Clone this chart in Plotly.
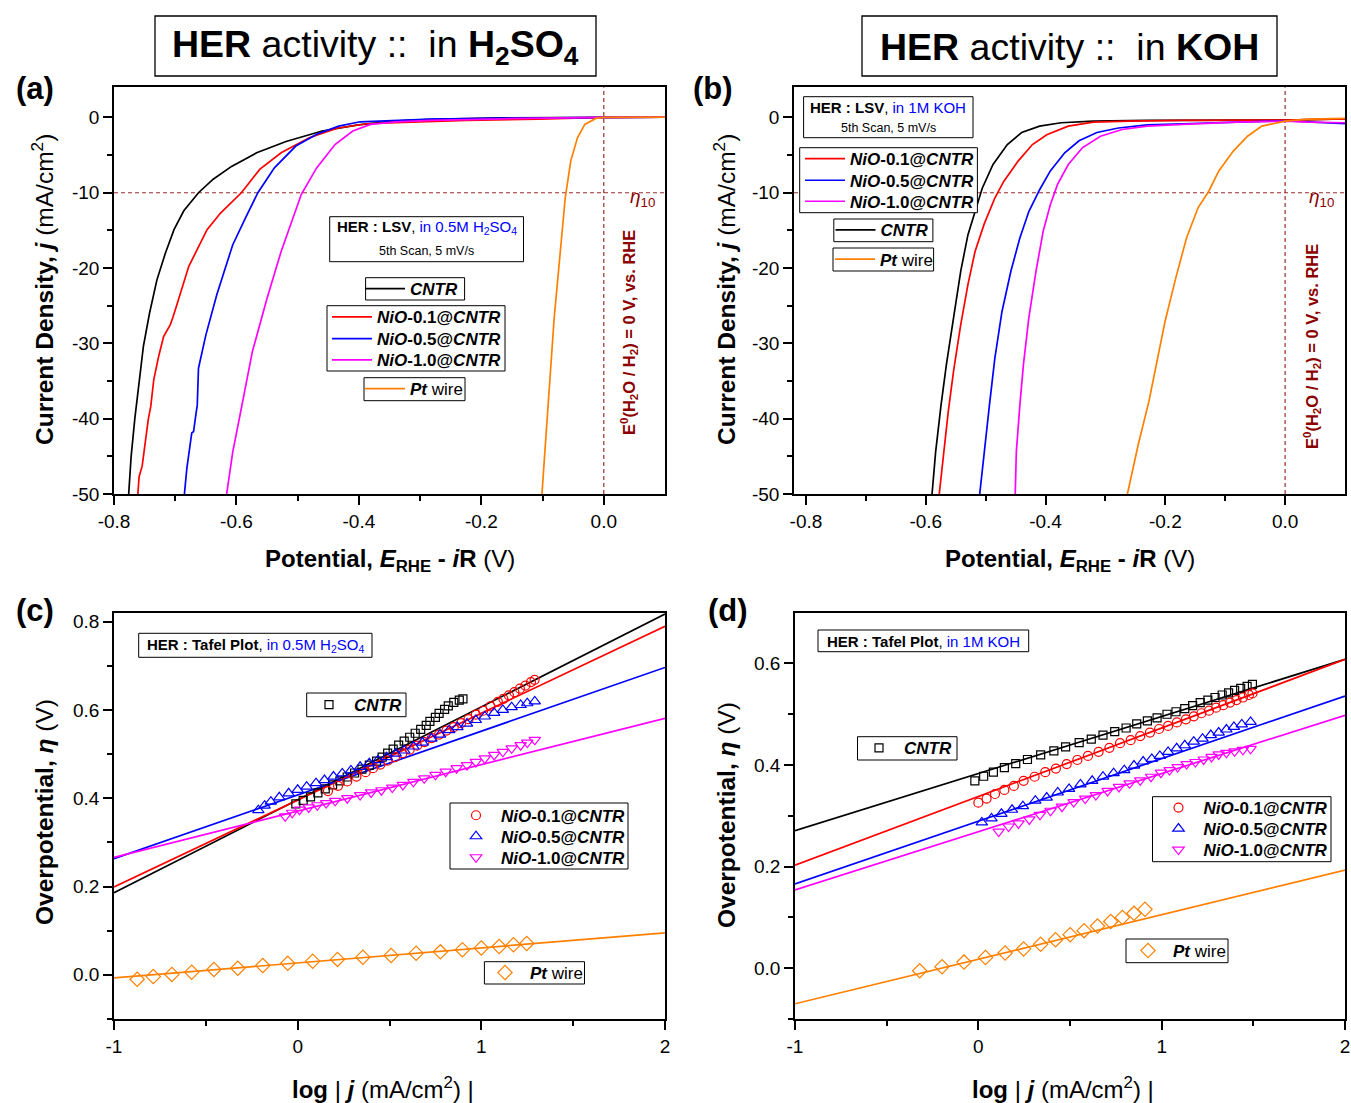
import plotly.graph_objects as go

W, H = 1351, 1103
FONT = "Arial, Liberation Sans, sans-serif"
DARKRED = "#8B0000"
DASHRED = "#9B2F2F"
C_BLACK, C_RED, C_BLUE, C_MAG, C_ORG = "#000000", "#FF0000", "#0000FF", "#FF00FF", "#FF8000"

def px(x):
    return x / W

def py(y):
    return 1 - y / H

# ---------------- DATA ----------------
# (a) LSV in 0.5 M H2SO4 : potential E (V vs RHE) and current density j (mA/cm2)
A_CNTR_E = [-0.776, -0.772, -0.766, -0.760, -0.752, -0.742, -0.730, -0.716, -0.702, -0.686, -0.662, -0.638,
            -0.608, -0.567, -0.519, -0.460, -0.401, -0.342, -0.283, -0.165, 0.0, 0.1]
A_CNTR_J = [-50.0, -45.0, -40.0, -35.5, -30.4, -26.0, -21.6, -18.0, -14.9, -12.4, -10.0, -8.2,
            -6.5, -4.7, -3.2, -1.8, -1.0, -0.5, -0.27, -0.05, 0.02, 0.05]
A_N01_E = [-0.761, -0.759, -0.754, -0.750, -0.744, -0.740, -0.735, -0.727, -0.719, -0.708, -0.704, -0.694,
           -0.678, -0.648, -0.626, -0.592, -0.562, -0.527, -0.481, -0.434, -0.387, -0.340, -0.224, -0.107, 0.0, 0.1]
A_N01_J = [-50.0, -47.7, -46.3, -43.7, -40.1, -38.4, -34.8, -31.7, -29.1, -27.5, -26.6, -24.0,
           -19.8, -14.9, -12.7, -10.0, -6.9, -4.7, -2.7, -1.4, -0.84, -0.71, -0.40, -0.22, 0.0, 0.04]
A_N05_E = [-0.685, -0.681, -0.673, -0.670, -0.667, -0.664, -0.662, -0.650, -0.632, -0.606, -0.585, -0.565,
           -0.538, -0.503, -0.468, -0.433, -0.398, -0.352, -0.282, -0.165, 0.0, 0.1]
A_N05_J = [-50.0, -46.6, -41.9, -41.7, -39.9, -38.2, -33.3, -28.9, -23.5, -16.9, -13.3, -10.0,
           -6.7, -3.8, -2.2, -1.15, -0.58, -0.40, -0.22, -0.09, 0.04, 0.04]
A_N10_E = [-0.616, -0.606, -0.591, -0.574, -0.550, -0.527, -0.494, -0.469, -0.439, -0.410, -0.381, -0.340,
           -0.282, -0.165, 0.0, 0.1]
A_N10_J = [-50.0, -44.4, -38.2, -31.1, -24.0, -17.8, -10.2, -6.7, -3.6, -1.8, -0.93, -0.58,
           -0.40, -0.18, 0.0, 0.04]
A_PT_E = [-0.101, -0.096, -0.089, -0.081, -0.071, -0.063, -0.054, -0.043, -0.031, -0.013, 0.0, 0.1]
A_PT_J = [-50.0, -44.4, -35.5, -26.6, -17.8, -10.7, -5.8, -2.7, -0.93, -0.13, 0.0, 0.04]

# (b) LSV in 1 M KOH
B_CNTR_E = [-0.5895, -0.5835, -0.5745, -0.5655, -0.5536, -0.5416, -0.5296, -0.5177, -0.5057, -0.4877,
            -0.4638, -0.4399, -0.4099, -0.3740, -0.3202, -0.2304, -0.1107, 0.0, 0.10]
B_CNTR_J = [-50.0, -44.4, -38.2, -32.8, -26.6, -20.4, -15.6, -12.5, -9.4, -6.25,
            -3.6, -2.0, -1.15, -0.71, -0.49, -0.40, -0.35, -0.35, -0.18]
B_N01_E = [-0.5775, -0.5703, -0.5625, -0.5536, -0.5416, -0.5296, -0.5177, -0.5027, -0.4847, -0.4698,
           -0.4458, -0.4219, -0.3980, -0.3621, -0.3202, -0.2603, -0.1706, 0.0, 0.10]
B_N01_J = [-50.0, -44.4, -39.1, -33.7, -27.5, -22.2, -17.8, -14.2, -10.7, -8.5,
           -5.8, -3.6, -2.3, -1.15, -0.62, -0.49, -0.40, -0.35, -0.18]
B_N05_E = [-0.5099, -0.5027, -0.4937, -0.4847, -0.4728, -0.4578, -0.4429, -0.4279, -0.4099, -0.3920,
           -0.3680, -0.3441, -0.3142, -0.2783, -0.2304, -0.1706, -0.0808, 0.0, 0.039, 0.10]
B_N05_J = [-50.0, -44.4, -38.2, -32.0, -25.8, -20.4, -16.0, -12.5, -9.6, -7.1,
           -4.7, -3.1, -2.0, -1.4, -1.0, -0.84, -0.58, -0.44, -0.58, -0.84]
B_N10_E = [-0.4506, -0.4488, -0.4429, -0.4369, -0.4279, -0.4159, -0.4039, -0.3920, -0.3800, -0.3620,
           -0.3381, -0.3082, -0.2723, -0.2304, -0.1706, -0.0808, 0.0, 0.039, 0.10]
B_N10_J = [-50.0, -44.4, -38.2, -32.8, -26.6, -20.4, -15.1, -11.6, -8.9, -6.25,
           -4.0, -2.5, -1.6, -1.15, -0.93, -0.62, -0.49, -0.62, -0.71]
B_PT_E = [-0.2633, -0.2454, -0.2274, -0.2124, -0.2005, -0.1825, -0.1646, -0.1454, -0.1275, -0.1107,
          -0.0868, -0.0628, -0.0389, 0.0, 0.039, 0.10]
B_PT_J = [-50.0, -43.5, -37.7, -32.0, -27.1, -21.3, -16.0, -12.0, -9.8, -7.1,
          -4.5, -2.5, -1.15, -0.49, -0.22, -0.13]

# (c) Tafel in 0.5 M H2SO4 : log|j| and overpotential (V)
C_CNTR_X = [-0.01, 0.03, 0.07, 0.11, 0.15, 0.19, 0.23, 0.27, 0.31, 0.35, 0.39, 0.43, 0.46, 0.49, 0.52,
            0.55, 0.58, 0.61, 0.64, 0.67, 0.70, 0.72, 0.75, 0.77, 0.80, 0.82, 0.85, 0.88, 0.90]
C_CNTR_Y = [0.387, 0.395, 0.403, 0.412, 0.421, 0.430, 0.439, 0.448, 0.457, 0.466, 0.475, 0.484, 0.493,
            0.502, 0.511, 0.520, 0.529, 0.538, 0.547, 0.556, 0.565, 0.574, 0.583, 0.592, 0.601, 0.609,
            0.617, 0.622, 0.625]
C_N01_X = [0.165, 0.22, 0.27, 0.32, 0.37, 0.41, 0.45, 0.49, 0.53, 0.57, 0.61, 0.65, 0.69, 0.73, 0.77,
           0.81, 0.85, 0.89, 0.93, 0.97, 1.01, 1.05, 1.09, 1.12, 1.15, 1.18, 1.21, 1.24, 1.27, 1.29]
C_N01_Y = [0.416, 0.428, 0.438, 0.449, 0.459, 0.468, 0.476, 0.485, 0.493, 0.502, 0.510, 0.519, 0.527,
           0.536, 0.544, 0.553, 0.561, 0.570, 0.579, 0.589, 0.598, 0.608, 0.618, 0.625, 0.633, 0.640,
           0.648, 0.655, 0.663, 0.668]
C_N05_X = [-0.214, -0.18, -0.146, -0.10, -0.049, 0.0, 0.049, 0.10, 0.146, 0.195, 0.243, 0.29, 0.340,
           0.39, 0.437, 0.485, 0.534, 0.58, 0.631, 0.68, 0.728, 0.775, 0.825, 0.87, 0.922, 0.97, 1.019,
           1.07, 1.117, 1.165, 1.214, 1.25, 1.291]
C_N05_Y = [0.373, 0.383, 0.392, 0.402, 0.411, 0.419, 0.426, 0.434, 0.441, 0.449, 0.456, 0.463, 0.471,
           0.479, 0.486, 0.493, 0.501, 0.508, 0.517, 0.526, 0.535, 0.544, 0.554, 0.561, 0.569, 0.577,
           0.585, 0.593, 0.600, 0.606, 0.611, 0.615, 0.619]
C_N10_X = [-0.068, -0.03, 0.010, 0.06, 0.107, 0.155, 0.204, 0.27, 0.340, 0.40, 0.456, 0.515, 0.573,
           0.63, 0.689, 0.75, 0.806, 0.865, 0.922, 0.97, 1.019, 1.07, 1.117, 1.165, 1.214, 1.25, 1.291]
C_N10_Y = [0.359, 0.367, 0.374, 0.379, 0.384, 0.389, 0.394, 0.400, 0.407, 0.413, 0.418, 0.424, 0.430,
           0.437, 0.445, 0.453, 0.460, 0.468, 0.475, 0.482, 0.490, 0.498, 0.505, 0.513, 0.520, 0.526, 0.532]
C_PT_X = [-0.874, -0.786, -0.685, -0.577, -0.456, -0.326, -0.190, -0.054, 0.082, 0.217, 0.355, 0.509,
          0.645, 0.777, 0.897, 1.000, 1.097, 1.175, 1.247]
C_PT_Y = [-0.010, -0.004, 0.001, 0.006, 0.012, 0.015, 0.021, 0.026, 0.031, 0.035, 0.040, 0.044,
          0.049, 0.052, 0.057, 0.061, 0.064, 0.068, 0.071]
# fitted Tafel lines (end points at log|j| = -1 and 2)
FIT_X = [-1, 2]
C_FIT_CNTR = [0.186, 0.817]
C_FIT_N01 = [0.199, 0.789]
C_FIT_N05 = [0.263, 0.696]
C_FIT_N10 = [0.266, 0.581]
C_FIT_PT = [-0.007, 0.095]

# (d) Tafel in 1 M KOH
D_CNTR_X = [-0.019, 0.029, 0.082, 0.142, 0.204, 0.268, 0.340, 0.412, 0.476, 0.550, 0.616, 0.680, 0.744,
            0.806, 0.864, 0.922, 0.975, 1.029, 1.078, 1.126, 1.169, 1.210, 1.252, 1.291, 1.330, 1.365,
            1.398, 1.431, 1.466, 1.495]
D_CNTR_Y = [0.369, 0.378, 0.386, 0.395, 0.403, 0.411, 0.420, 0.428, 0.436, 0.444, 0.451, 0.459, 0.466,
            0.473, 0.481, 0.487, 0.493, 0.500, 0.505, 0.511, 0.517, 0.523, 0.528, 0.533, 0.538, 0.542,
            0.547, 0.551, 0.555, 0.559]
D_N01_X = [0.000, 0.045, 0.091, 0.142, 0.194, 0.247, 0.307, 0.365, 0.423, 0.482, 0.540, 0.598, 0.656,
           0.715, 0.773, 0.831, 0.883, 0.936, 0.986, 1.035, 1.083, 1.132, 1.175, 1.217, 1.258, 1.297,
           1.336, 1.373, 1.408, 1.443, 1.476, 1.495]
D_N01_Y = [0.326, 0.334, 0.343, 0.351, 0.359, 0.369, 0.377, 0.386, 0.393, 0.402, 0.410, 0.418, 0.426,
           0.434, 0.443, 0.449, 0.457, 0.464, 0.471, 0.477, 0.484, 0.490, 0.496, 0.502, 0.507, 0.513,
           0.518, 0.523, 0.528, 0.533, 0.538, 0.541]
D_N05_X = [0.019, 0.072, 0.126, 0.184, 0.243, 0.311, 0.373, 0.433, 0.495, 0.557, 0.621, 0.680, 0.738,
           0.796, 0.849, 0.899, 0.946, 0.990, 1.035, 1.082, 1.126, 1.175, 1.223, 1.268, 1.311, 1.353,
           1.394, 1.437, 1.485]
D_N05_Y = [0.287, 0.295, 0.304, 0.312, 0.319, 0.330, 0.336, 0.346, 0.353, 0.362, 0.369, 0.377, 0.384,
           0.390, 0.399, 0.407, 0.412, 0.418, 0.426, 0.433, 0.439, 0.446, 0.452, 0.459, 0.464, 0.470,
           0.475, 0.480, 0.485]
D_N10_X = [0.111, 0.165, 0.219, 0.278, 0.336, 0.394, 0.456, 0.520, 0.583, 0.641, 0.705, 0.767, 0.825,
           0.883, 0.942, 0.996, 1.043, 1.087, 1.136, 1.184, 1.229, 1.272, 1.311, 1.353, 1.398, 1.443, 1.485]
D_N10_Y = [0.269, 0.279, 0.285, 0.293, 0.302, 0.310, 0.318, 0.327, 0.334, 0.341, 0.349, 0.357, 0.364,
           0.370, 0.377, 0.385, 0.390, 0.396, 0.402, 0.406, 0.411, 0.416, 0.421, 0.424, 0.427, 0.430, 0.432]
D_PT_X = [-0.320, -0.198, -0.078, 0.039, 0.146, 0.247, 0.340, 0.421, 0.501, 0.577, 0.650, 0.722, 0.786,
          0.849, 0.909]
D_PT_Y = [-0.005, 0.003, 0.012, 0.021, 0.030, 0.038, 0.047, 0.056, 0.066, 0.074, 0.083, 0.092, 0.100,
          0.108, 0.116]
D_FIT_CNTR = [0.271, 0.608]
D_FIT_N01 = [0.203, 0.608]
D_FIT_N05 = [0.166, 0.536]
D_FIT_N10 = [0.154, 0.498]
D_FIT_PT = [-0.070, 0.193]

# tick definitions
LSV_XT = [-0.8, -0.6, -0.4, -0.2, 0.0]
LSV_XL = ["-0.8", "-0.6", "-0.4", "-0.2", "0.0"]
LSV_XM = [-0.7, -0.5, -0.3, -0.1]
LSV_YT = [-50, -40, -30, -20, -10, 0]
LSV_YL = ["-50", "-40", "-30", "-20", "-10", "0"]
LSV_YM = [-45, -35, -25, -15, -5]
TAF_XT = [-1, 0, 1, 2]
TAF_XL = ["-1", "0", "1", "2"]
TAF_XM = [-0.5, 0.5, 1.5]
C_YT = [0.0, 0.2, 0.4, 0.6, 0.8]
C_YL = ["0.0", "0.2", "0.4", "0.6", "0.8"]
C_YM = [-0.1, 0.1, 0.3, 0.5, 0.7]
D_YT = [0.0, 0.2, 0.4, 0.6]
D_YL = ["0.0", "0.2", "0.4", "0.6"]
D_YM = [-0.1, 0.1, 0.3, 0.5]

NAME_CNTR = "<b><i>CNTR</i></b>"
NAME_N01 = "<b><i>NiO</i>-0.1@<i>CNTR</i></b>"
NAME_N05 = "<b><i>NiO</i>-0.5@<i>CNTR</i></b>"
NAME_N10 = "<b><i>NiO</i>-1.0@<i>CNTR</i></b>"
NAME_PT = "<b><i>Pt</i></b> wire"

fig = go.Figure()

# ---------- traces ----------
def add_line(x, y, color, name, ax, leg, show=True):
    fig.add_trace(go.Scatter(x=x, y=y, mode="lines", line=dict(color=color, width=1.7),
                             name=name, xaxis="x" + ax, yaxis="y" + ax,
                             legend=leg, showlegend=show))

def add_mark(x, y, color, symbol, size, name, ax, leg):
    fig.add_trace(go.Scatter(x=x, y=y, mode="markers",
                             marker=dict(symbol=symbol, size=size, color=color,
                                         line=dict(color=color, width=1.2)),
                             name=name, xaxis="x" + ax, yaxis="y" + ax, legend=leg))

# (a)
add_line(A_CNTR_E, A_CNTR_J, C_BLACK, NAME_CNTR, "", "legend")
add_line(A_N01_E, A_N01_J, C_RED, NAME_N01, "", "legend2")
add_line(A_N05_E, A_N05_J, C_BLUE, NAME_N05, "", "legend3")
add_line(A_N10_E, A_N10_J, C_MAG, NAME_N10, "", "legend4")
add_line(A_PT_E, A_PT_J, C_ORG, NAME_PT, "", "legend5")
# (b)
add_line(B_CNTR_E, B_CNTR_J, C_BLACK, NAME_CNTR, "2", "legend6")
add_line(B_N01_E, B_N01_J, C_RED, NAME_N01, "2", "legend7")
add_line(B_N05_E, B_N05_J, C_BLUE, NAME_N05, "2", "legend8")
add_line(B_N10_E, B_N10_J, C_MAG, NAME_N10, "2", "legend9")
add_line(B_PT_E, B_PT_J, C_ORG, NAME_PT, "2", "legend10")
# (c)
for fy, col in [(C_FIT_CNTR, C_BLACK), (C_FIT_N01, C_RED), (C_FIT_N05, C_BLUE),
                (C_FIT_N10, C_MAG), (C_FIT_PT, C_ORG)]:
    add_line(FIT_X, fy, col, "fit", "3", "legend", show=False)
add_mark(C_CNTR_X, C_CNTR_Y, C_BLACK, "square-open", 8, NAME_CNTR, "3", "legend11")
add_mark(C_N01_X, C_N01_Y, C_RED, "circle-open", 9, NAME_N01, "3", "legend12")
add_mark(C_N05_X, C_N05_Y, C_BLUE, "triangle-up-open", 10, NAME_N05, "3", "legend13")
add_mark(C_N10_X, C_N10_Y, C_MAG, "triangle-down-open", 10, NAME_N10, "3", "legend14")
add_mark(C_PT_X, C_PT_Y, C_ORG, "diamond-open", 11, NAME_PT, "3", "legend15")
# (d)
for fy, col in [(D_FIT_CNTR, C_BLACK), (D_FIT_N01, C_RED), (D_FIT_N05, C_BLUE),
                (D_FIT_N10, C_MAG), (D_FIT_PT, C_ORG)]:
    add_line(FIT_X, fy, col, "fit", "4", "legend", show=False)
add_mark(D_CNTR_X, D_CNTR_Y, C_BLACK, "square-open", 8, NAME_CNTR, "4", "legend16")
add_mark(D_N01_X, D_N01_Y, C_RED, "circle-open", 9, NAME_N01, "4", "legend17")
add_mark(D_N05_X, D_N05_Y, C_BLUE, "triangle-up-open", 10, NAME_N05, "4", "legend18")
add_mark(D_N10_X, D_N10_Y, C_MAG, "triangle-down-open", 10, NAME_N10, "4", "legend19")
add_mark(D_PT_X, D_PT_Y, C_ORG, "diamond-open", 11, NAME_PT, "4", "legend20")

# ---------- axes ----------
def axis(dom, rng, tv, tt, minor, anchor):
    return dict(domain=dom, range=rng, anchor=anchor, showline=True, linecolor="black", linewidth=1.5,
                mirror=True, ticks="outside", ticklen=9, tickwidth=1.5, tickcolor="black",
                showgrid=False, zeroline=False, tickmode="array", tickvals=tv, ticktext=tt,
                automargin=False,
                tickfont=dict(family=FONT, size=19, color="black"),
                minor=dict(ticks="outside", ticklen=5, tickwidth=1.5, tickcolor="black",
                           tickmode="array", tickvals=minor, showgrid=False))

XA = [px(114), px(665)]
XB = [px(794), px(1345)]
XD = [px(795), px(1345)]
YTOP = [py(494), py(87.3)]
YBOT = [py(1019), py(612.7)]

layout = dict(
    width=W, height=H, autosize=False, margin=dict(l=0, r=0, t=0, b=0, pad=0, autoexpand=False),
    paper_bgcolor="white", plot_bgcolor="white", font=dict(family=FONT, color="black"),
    xaxis=axis(XA, [-0.8, 0.1], LSV_XT, LSV_XL, LSV_XM, "y"),
    yaxis=axis(YTOP, [-50, 4], LSV_YT, LSV_YL, LSV_YM, "x"),
    xaxis2=axis(XB, [-0.82, 0.1], LSV_XT, LSV_XL, LSV_XM, "y2"),
    yaxis2=axis(YTOP, [-50, 4], LSV_YT, LSV_YL, LSV_YM, "x2"),
    xaxis3=axis(XA, [-1, 2], TAF_XT, TAF_XL, TAF_XM, "y3"),
    yaxis3=axis(YBOT, [-0.1, 0.82], C_YT, C_YL, C_YM, "x3"),
    xaxis4=axis(XD, [-1, 2], TAF_XT, TAF_XL, TAF_XM, "y4"),
    yaxis4=axis(YBOT, [-0.1, 0.7], D_YT, D_YL, D_YM, "x4"),
)

# ---------- legends (one per entry, positioned in pixels) ----------
LEG_POS = {
    "legend": (360, 289), "legend2": (327, 317.3), "legend3": (327, 339), "legend4": (327, 360.3),
    "legend5": (360, 389),
    "legend6": (830.5, 230.3), "legend7": (800, 159), "legend8": (800, 180.7), "legend9": (800, 201.7),
    "legend10": (830, 259.5),
    "legend11": (304, 705), "legend12": (451, 815.7), "legend13": (451, 836.7), "legend14": (451, 857.7),
    "legend15": (480, 973),
    "legend16": (854, 748.3), "legend17": (1153.5, 808), "legend18": (1153.5, 829), "legend19": (1153.5, 850),
    "legend20": (1123, 951),
}
for key, (lx, ly) in LEG_POS.items():
    layout[key] = dict(x=px(lx), y=py(ly), xanchor="left", yanchor="middle", xref="paper", yref="paper",
                       bgcolor="rgba(0,0,0,0)", borderwidth=0, itemwidth=40,
                       font=dict(family=FONT, size=17, color="black"))

fig.update_layout(**layout)

# ---------- shapes ----------
shapes = []
def box(x0, y0, x1, y1, lw=1.0):
    shapes.append(dict(type="rect", xref="paper", yref="paper", x0=px(x0), x1=px(x1), y0=py(y1), y1=py(y0),
                       line=dict(color="black", width=lw), fillcolor="white", layer="above"))

box(155, 16, 596, 76, 1.3)
box(862, 16, 1277, 76, 1.3)
box(329.7, 216.7, 523.5, 261.7)
box(365.6, 277.7, 464.6, 300)
box(327, 305.7, 505, 371)
box(364, 377.7, 465, 400.7)
box(803.6, 96.7, 973, 137.7)
box(799.7, 147.7, 977.4, 212.7)
box(833.8, 219, 932.9, 241.7)
box(833, 248, 933.6, 271)
box(138.7, 633.3, 372, 657.3)
box(306.7, 693, 406, 716.7)
box(450, 803, 628, 869)
box(484.4, 961.7, 584.5, 984)
box(818, 630, 1028.7, 651.7)
box(857.5, 736.7, 957, 760)
box(1152.5, 796.7, 1331, 861.7)
box(1126, 939, 1228, 962.7)

for ax in ["", "2"]:
    shapes.append(dict(type="line", xref="x" + ax + " domain", yref="y" + ax, x0=0, x1=1, y0=-10, y1=-10,
                       line=dict(color=DASHRED, width=1.2, dash="4px,3px"), layer="below"))
    shapes.append(dict(type="line", xref="x" + ax, yref="y" + ax + " domain", x0=0, x1=0, y0=0, y1=1,
                       line=dict(color=DASHRED, width=1.2, dash="4px,3px"), layer="below"))

# ---------- annotations ----------
ann = []
def txt(x, y, text, size, color="black", angle=0, xanchor="center", yanchor="middle"):
    ann.append(dict(x=px(x), y=py(y), xref="paper", yref="paper", text=text, showarrow=False,
                    font=dict(family=FONT, size=size, color=color), textangle=angle,
                    xanchor=xanchor, yanchor=yanchor))

txt(375.5, 47, "<b>HER</b> activity ::&nbsp; in <b>H<sub>2</sub>SO<sub>4</sub></b>", 37.5)
txt(1069.5, 47, "<b>HER</b> activity ::&nbsp; in <b>KOH</b>", 37.5)
txt(35, 88, "<b>(a)</b>", 31)
txt(713, 88, "<b>(b)</b>", 31)
txt(35, 610, "<b>(c)</b>", 31)
txt(728, 610, "<b>(d)</b>", 31)

YT_LSV = "<b>Current Density, <i>j</i></b> (mA/cm<sup>2</sup>)"
XT_LSV = "<b>Potential, <i>E</i><sub>RHE</sub> - <i>i</i>R</b> (V)"
YT_TAF = "<b>Overpotential, <i>η</i></b> (V)"
XT_TAF = "<b>log</b> | <b><i>j</i></b> (mA/cm<sup>2</sup>) |"
txt(42, 290, YT_LSV, 24.5, angle=-90)
txt(724, 290, YT_LSV, 24.5, angle=-90)
txt(390, 560, XT_LSV, 24)
txt(1070, 560, XT_LSV, 24)
txt(44, 812, YT_TAF, 24.5, angle=-90)
txt(726, 815, YT_TAF, 24.5, angle=-90)
txt(383, 1088, XT_TAF, 24)
txt(1063, 1088, XT_TAF, 24)

BLUE_SPAN = "<span style='color:#0000FF'>%s</span>"
txt(426.6, 228, "<b>HER : LSV</b>, " + BLUE_SPAN % "in 0.5M H<sub>2</sub>SO<sub>4</sub>", 15)
txt(426.6, 251.5, "5th Scan, 5 mV/s", 12.5)
txt(888.3, 107.5, "<b>HER : LSV</b>, " + BLUE_SPAN % "in 1M KOH", 15)
txt(888.3, 127.5, "5th Scan, 5 mV/s", 12.5)
txt(255.3, 645, "<b>HER : Tafel Plot</b>, " + BLUE_SPAN % "in 0.5M H<sub>2</sub>SO<sub>4</sub>", 15)
txt(923.3, 641, "<b>HER : Tafel Plot</b>, " + BLUE_SPAN % "in 1M KOH", 15)

ETA10 = "<i>η</i><sub>10</sub>"
txt(642, 198, ETA10, 19, color=DARKRED)
txt(1321, 198, ETA10, 19, color=DARKRED)
E0TXT = "<b>E<sup>0</sup>(H<sub>2</sub>O / H<sub>2</sub>) = 0 V, vs. RHE</b>"
txt(629, 333, E0TXT, 16.5, color=DARKRED, angle=-90)
txt(1312, 347, E0TXT, 16.5, color=DARKRED, angle=-90)

fig.update_layout(shapes=shapes, annotations=ann)

fig.write_html("out.html", config={"displayModeBar": False},
               post_script="document.body.style.margin='0';")
